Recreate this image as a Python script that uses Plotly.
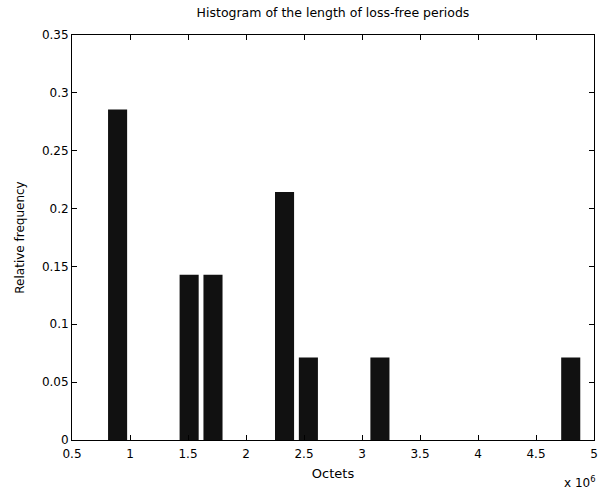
import plotly.graph_objects as go

# Histogram bins (20 equal bins, centres in units of 10^6 octets)
bin_start = 0.893
bin_width = 0.2056
n_bins = 20
bin_centers = [bin_start + k * bin_width for k in range(n_bins)]
# Relative frequency per bin (14 periods total)
rel_freq = [0.2857, 0, 0, 0.1429, 0.1429, 0, 0, 0.2143, 0.0714, 0,
            0, 0.0714, 0, 0, 0, 0, 0, 0, 0, 0.0714]

x_ticks = [0.5, 1, 1.5, 2, 2.5, 3, 3.5, 4, 4.5, 5]
x_tick_labels = ["0.5", "1", "1.5", "2", "2.5", "3", "3.5", "4", "4.5", "5"]
y_ticks = [0, 0.05, 0.1, 0.15, 0.2, 0.25, 0.3, 0.35]
y_tick_labels = ["0", "0.05", "0.1", "0.15", "0.2", "0.25", "0.3", "0.35"]

font = dict(family="DejaVu Sans, Arial, sans-serif", size=12, color="#000")

fig = go.Figure(go.Bar(
    x=bin_centers, y=rel_freq, width=0.8 * bin_width,
    marker=dict(color="#111111", line=dict(width=0)),
))

fig.update_layout(
    width=607, height=491,
    margin=dict(l=72, r=9, t=35, b=51),
    paper_bgcolor="white", plot_bgcolor="white",
    font=font, showlegend=False,
    title=dict(text="Histogram of the length of loss-free periods",
               x=0.5, xanchor="center", xref="paper",
               y=1 - 13 / 491, yanchor="middle", font=dict(size=12.5)),
    xaxis=dict(range=[0.5, 5], tickvals=x_ticks, ticktext=x_tick_labels,
               ticks="inside", ticklen=5, tickcolor="#000", tickwidth=1,
               showline=True, linecolor="#000", linewidth=1, mirror="ticks",
               showgrid=False, zeroline=False, ticklabelstandoff=3,
               tickfont=dict(size=12),
               title=dict(text="Octets", standoff=8, font=dict(size=13))),
    yaxis=dict(range=[0, 0.35], tickvals=y_ticks, ticktext=y_tick_labels,
               ticks="inside", ticklen=5, tickcolor="#000", tickwidth=1,
               showline=True, linecolor="#000", linewidth=1, mirror="ticks",
               showgrid=False, zeroline=False, tickfont=dict(size=12),
               title=dict(text="Relative frequency", standoff=14,
                          font=dict(size=12))),
    annotations=[dict(text="x 10<sup>6</sup>", xref="paper", yref="paper",
                      x=1.0, y=-0.08, xanchor="right", yanchor="top",
                      xshift=4, showarrow=False, font=dict(size=12))],
)

fig.write_html("out.html")
